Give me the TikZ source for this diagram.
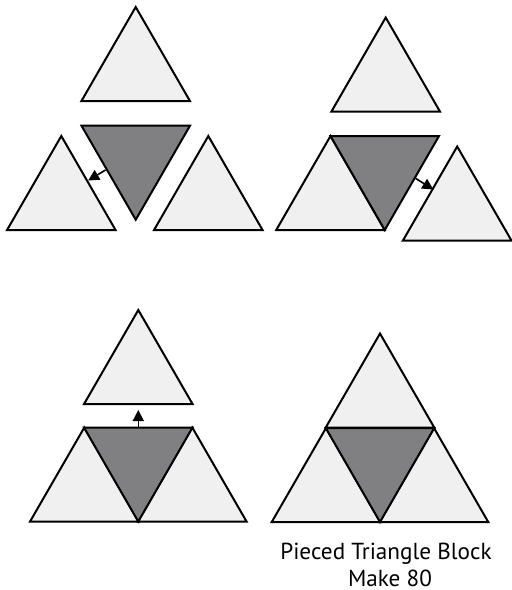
\documentclass[tikz,border=0pt]{standalone}
\usepackage{fontspec}
\setmainfont{PT Sans}
\usetikzlibrary{arrows.meta}
\definecolor{lightfill}{RGB}{240,240,240}
\definecolor{darkfill}{RGB}{128,128,130}
\tikzset{
  lighttri/.style={fill=lightfill,draw=black,line width=1pt,line join=miter},
  darktri/.style={fill=darkfill,draw=black,line width=1pt,line join=miter},
  pusharrow/.style={-{Triangle[length=5.5pt,width=5.5pt]},line width=0.8pt,shorten >=-0.5pt},
  caption/.style={font=\fontsize{11.6pt}{13pt}\selectfont,anchor=base,inner sep=0pt}
}
% up-pointing triangle by apex
\newcommand\uptri[3][lighttri]{\filldraw[#1] (#2,#3) -- ++(-54.25,94) -- ++(108.5,0) -- cycle;}
% down-pointing triangle by top-left corner
\newcommand\downtri[3][darktri]{\filldraw[#1] (#2,#3) -- ++(108.5,0) -- ++(-54.25,94) -- cycle;}
\begin{document}
\begin{tikzpicture}[x=0.5pt,y=-0.5pt]
\useasboundingbox (0,0) rectangle (511,590);
% panel 1
\uptri{135.7}{7}
\downtri{81.5}{125.7}
\uptri{61.3}{136}
\uptri{208.3}{136}
\coordinate (a1s) at (105.5,170);
\coordinate (a1e) at (89,180);
\draw[pusharrow] (a1s) -- (a1e);
% panel 2
\uptri{385.7}{17.5}
\uptri{330.5}{136}
\downtri{330.5}{136}
\uptri{457.2}{146.5}
\coordinate (a2s) at (415.5,178.3);
\coordinate (a2e) at (432.5,189);
\draw[pusharrow] (a2s) -- (a2e);
% panel 3
\uptri{138.3}{310}
\uptri{84.3}{427.5}
\uptri{192.3}{427.5}
\downtri{84}{427.5}
\coordinate (a3s) at (138.3,427.5);
\coordinate (a3e) at (138.3,411);
\draw[pusharrow] (a3s) -- (a3e);
% panel 4
\uptri{380}{333.5}
\uptri{326}{428}
\uptri{434}{428}
\downtri{325.75}{428}
\node[caption] (cap1) at (386,559) {Pieced Triangle Block};
\node[caption] (cap2) at (390,586) {Make 80};
\end{tikzpicture}
\end{document}
